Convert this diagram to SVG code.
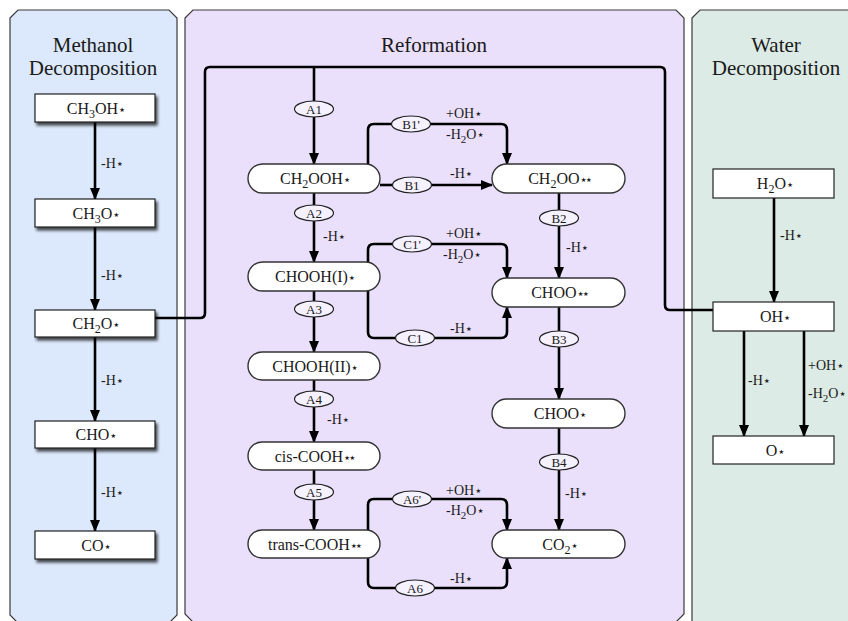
<svg xmlns="http://www.w3.org/2000/svg" width="848" height="621" viewBox="0 0 848 621" font-family="'Liberation Serif', 'DejaVu Serif', serif">
<defs>
<style>
text{font-family:'Liberation Serif','DejaVu Serif',serif;fill:#1a1a1a}
.title{font-size:21px;text-anchor:middle}
.nt{font-size:16px;text-anchor:middle}
.el{font-size:14px}
.et{font-size:13px;text-anchor:middle}
.st{font-family:'DejaVu Sans',sans-serif;font-size:13px;letter-spacing:-3px}
.panel{stroke:#3a3a3a;stroke-width:1.2}
.box{fill:#fff;stroke:#222;stroke-width:1.2}
.stad{fill:#fff;stroke:#333;stroke-width:1.4}
.ell{fill:#f5f1fe;stroke:#222;stroke-width:1.2}
.ln{fill:none;stroke:#000;stroke-width:2.6}
.ar{fill:none;stroke:#000;stroke-width:2.6;marker-end:url(#ah)}
</style>
<marker id="ah" markerUnits="userSpaceOnUse" markerWidth="12" markerHeight="12" refX="11" refY="5" orient="auto">
<path d="M0,0 L12,5 L0,10 z" fill="#000"/>
</marker>
<filter id="sh" x="-10%" y="-20%" width="130%" height="160%">
<feGaussianBlur in="SourceAlpha" stdDeviation="1.5"/>
<feOffset dx="2" dy="3" result="b"/>
<feComponentTransfer><feFuncA type="linear" slope="0.7"/></feComponentTransfer>
<feMerge><feMergeNode/><feMergeNode in="SourceGraphic"/></feMerge>
</filter>
</defs>

<g id="panel-methanol">
<path class="panel" fill="#dce8fb" d="M10,18 L18,10 H169 L177,18 V615 L169,623 H18 L10,615 Z"/>
<text class="title" x="93" y="52">Methanol</text>
<text class="title" x="93" y="75">Decomposition</text>
</g>
<g id="panel-reformation">
<path class="panel" fill="#ebe0fc" d="M185,18 L193,10 H676 L684,18 V614 L676,622 H193 L185,614 Z"/>
<text class="title" x="434" y="52">Reformation</text>
</g>
<g id="panel-water">
<path class="panel" fill="#dcebe5" d="M692,18 L700,10 H900 V640 H692 Z"/>
<text class="title" x="776" y="52">Water</text>
<text class="title" x="776" y="75">Decomposition</text>
</g>

<g id="connectors">
<path class="ar" d="M95,122 V199"/>
<path class="ar" d="M95,227 V310"/>
<path class="ar" d="M95,337 V421"/>
<path class="ar" d="M95,448 V531"/>
<path class="ln" d="M155,318 H200 Q205,318 205,313 V72 Q205,67 210,67 H660 Q665,67 665,72 V305 Q665,310 670,310 H713"/>
<path class="ln" d="M314,67 V101"/>
<path class="ar" d="M314,117 V164"/>
<path class="ln" d="M314,193 V205"/>
<path class="ar" d="M314,221 V262"/>
<path class="ln" d="M314,291 V301"/>
<path class="ar" d="M314,317 V352"/>
<path class="ln" d="M314,380 V391"/>
<path class="ar" d="M314,407 V442"/>
<path class="ln" d="M314,470 V484"/>
<path class="ar" d="M314,500 V530"/>
<path class="ln" d="M368,165 V130 Q368,124 374,124 H392"/>
<path class="ar" d="M430,124 H501 Q507,124 507,130 V164"/>
<path class="ln" d="M380,185 H393"/>
<path class="ar" d="M431,185 H492"/>
<path class="ln" d="M368,263 V250 Q368,244 374,244 H393"/>
<path class="ar" d="M431,244 H501 Q507,244 507,250 V278"/>
<path class="ln" d="M368,290 V332 Q368,338 374,338 H396"/>
<path class="ar" d="M434,338 H501 Q507,338 507,332 V307"/>
<path class="ln" d="M368,531 V505 Q368,499 374,499 H393"/>
<path class="ar" d="M431,499 H501 Q507,499 507,505 V530"/>
<path class="ln" d="M368,557 V582 Q368,588 374,588 H396"/>
<path class="ar" d="M434,588 H501 Q507,588 507,582 V558"/>
<path class="ln" d="M559,193 V210"/>
<path class="ar" d="M559,226 V278"/>
<path class="ln" d="M559,307 V331"/>
<path class="ar" d="M559,347 V399"/>
<path class="ln" d="M559,428 V454"/>
<path class="ar" d="M559,470 V530"/>
<path class="ar" d="M774,198 V302"/>
<path class="ar" d="M744,331 V436"/>
<path class="ar" d="M804,331 V436"/>
</g>

<g id="edge-labels">
<text class="el" x="101" y="168">-H<tspan class="st">⋆</tspan></text>
<text class="el" x="101" y="280">-H<tspan class="st">⋆</tspan></text>
<text class="el" x="101" y="385">-H<tspan class="st">⋆</tspan></text>
<text class="el" x="101" y="497">-H<tspan class="st">⋆</tspan></text>
<text class="el" x="323" y="241">-H<tspan class="st">⋆</tspan></text>
<text class="el" x="327" y="424">-H<tspan class="st">⋆</tspan></text>
<text class="el" x="566" y="252">-H<tspan class="st">⋆</tspan></text>
<text class="el" x="565" y="498">-H<tspan class="st">⋆</tspan></text>
<text class="el" x="446" y="118">+OH<tspan class="st">⋆</tspan></text>
<text class="el" x="446" y="139">-H<tspan dy="4" font-size="11">2</tspan><tspan dy="-4">O</tspan><tspan class="st">⋆</tspan></text>
<text class="el" x="450" y="178">-H<tspan class="st">⋆</tspan></text>
<text class="el" x="446" y="238">+OH<tspan class="st">⋆</tspan></text>
<text class="el" x="443" y="259">-H<tspan dy="4" font-size="11">2</tspan><tspan dy="-4">O</tspan><tspan class="st">⋆</tspan></text>
<text class="el" x="450" y="333">-H<tspan class="st">⋆</tspan></text>
<text class="el" x="446" y="495">+OH<tspan class="st">⋆</tspan></text>
<text class="el" x="446" y="515">-H<tspan dy="4" font-size="11">2</tspan><tspan dy="-4">O</tspan><tspan class="st">⋆</tspan></text>
<text class="el" x="450" y="583">-H<tspan class="st">⋆</tspan></text>
<text class="el" x="780" y="240">-H<tspan class="st">⋆</tspan></text>
<text class="el" x="748" y="385">-H<tspan class="st">⋆</tspan></text>
<text class="el" x="808" y="370">+OH<tspan class="st">⋆</tspan></text>
<text class="el" x="808" y="398">-H<tspan dy="4" font-size="11">2</tspan><tspan dy="-4">O</tspan><tspan class="st">⋆</tspan></text>
</g>

<g id="n-ch3oh"><rect class="box" filter="url(#sh)" x="35" y="94" width="120" height="28"/><text class="nt" x="95" y="113.5">CH<tspan dy="4" font-size="12">3</tspan><tspan dy="-4">OH</tspan><tspan class="st">⋆</tspan></text></g>
<g id="n-ch3o"><rect class="box" filter="url(#sh)" x="35" y="199" width="120" height="28"/><text class="nt" x="95" y="218.5">CH<tspan dy="4" font-size="12">3</tspan><tspan dy="-4">O</tspan><tspan class="st">⋆</tspan></text></g>
<g id="n-ch2o"><rect class="box" filter="url(#sh)" x="35" y="310" width="120" height="27"/><text class="nt" x="95" y="328.5">CH<tspan dy="4" font-size="12">2</tspan><tspan dy="-4">O</tspan><tspan class="st">⋆</tspan></text></g>
<g id="n-cho"><rect class="box" filter="url(#sh)" x="35" y="421" width="120" height="27"/><text class="nt" x="95" y="439.5">CHO<tspan class="st">⋆</tspan></text></g>
<g id="n-co"><rect class="box" filter="url(#sh)" x="35" y="531" width="120" height="28"/><text class="nt" x="95" y="550.5">CO<tspan class="st">⋆</tspan></text></g>

<g id="n-h2o"><rect class="box" x="713" y="169" width="121" height="29"/><text class="nt" x="774" y="188.5">H<tspan dy="4" font-size="12">2</tspan><tspan dy="-4">O</tspan><tspan class="st">⋆</tspan></text></g>
<g id="n-oh"><rect class="box" x="713" y="302" width="121" height="29"/><text class="nt" x="774" y="321.5">OH<tspan class="st">⋆</tspan></text></g>
<g id="n-o"><rect class="box" x="713" y="436" width="121" height="28"/><text class="nt" x="774" y="455.5">O<tspan class="st">⋆</tspan></text></g>

<g id="n-ch2ooh"><rect class="stad" x="248" y="164" width="132" height="29" rx="14.5"/><text class="nt" x="314" y="183.5">CH<tspan dy="4" font-size="12">2</tspan><tspan dy="-4">OOH</tspan><tspan class="st">⋆</tspan></text></g>
<g id="n-chooh1"><rect class="stad" x="248" y="262" width="132" height="29" rx="14.5"/><text class="nt" x="314" y="281.5">CHOOH(I)<tspan class="st">⋆</tspan></text></g>
<g id="n-chooh2"><rect class="stad" x="248" y="352" width="132" height="28" rx="14"/><text class="nt" x="314" y="371.5">CHOOH(II)<tspan class="st">⋆</tspan></text></g>
<g id="n-ciscooh"><rect class="stad" x="248" y="442" width="132" height="28" rx="14"/><text class="nt" x="314" y="461.5">cis-COOH<tspan class="st">⋆⋆</tspan></text></g>
<g id="n-transcooh"><rect class="stad" x="248" y="530" width="132" height="28" rx="14"/><text class="nt" x="314" y="549.5">trans-COOH<tspan class="st">⋆⋆</tspan></text></g>
<g id="n-ch2oo"><rect class="stad" x="492" y="164" width="133" height="29" rx="14.5"/><text class="nt" x="559" y="183.5">CH<tspan dy="4" font-size="12">2</tspan><tspan dy="-4">OO</tspan><tspan class="st">⋆⋆</tspan></text></g>
<g id="n-choo2"><rect class="stad" x="492" y="278" width="133" height="29" rx="14.5"/><text class="nt" x="559" y="297.5">CHOO<tspan class="st">⋆⋆</tspan></text></g>
<g id="n-choo1"><rect class="stad" x="492" y="399" width="133" height="29" rx="14.5"/><text class="nt" x="559" y="418.5">CHOO<tspan class="st">⋆</tspan></text></g>
<g id="n-co2"><rect class="stad" x="492" y="530" width="133" height="28" rx="14"/><text class="nt" x="559" y="549.5">CO<tspan dy="4" font-size="12">2</tspan><tspan dy="-4" class="st">⋆</tspan></text></g>

<g id="s-a1"><ellipse class="ell" cx="314" cy="109" rx="19.5" ry="8"/><text class="et" x="314" y="113.5">A1</text></g>
<g id="s-a2"><ellipse class="ell" cx="314" cy="213" rx="19.5" ry="8"/><text class="et" x="314" y="217.5">A2</text></g>
<g id="s-a3"><ellipse class="ell" cx="314" cy="309" rx="19.5" ry="8"/><text class="et" x="314" y="313.5">A3</text></g>
<g id="s-a4"><ellipse class="ell" cx="314" cy="399" rx="19.5" ry="8"/><text class="et" x="314" y="403.5">A4</text></g>
<g id="s-a5"><ellipse class="ell" cx="314" cy="492" rx="19.5" ry="8"/><text class="et" x="314" y="496.5">A5</text></g>
<g id="s-b1p"><ellipse class="ell" cx="411" cy="124" rx="19.5" ry="8"/><text class="et" x="411" y="128.5">B1'</text></g>
<g id="s-b1"><ellipse class="ell" cx="412" cy="185" rx="19.5" ry="8"/><text class="et" x="412" y="189.5">B1</text></g>
<g id="s-c1p"><ellipse class="ell" cx="412" cy="244" rx="19.5" ry="8"/><text class="et" x="412" y="248.5">C1'</text></g>
<g id="s-c1"><ellipse class="ell" cx="415" cy="338" rx="19.5" ry="8"/><text class="et" x="415" y="342.5">C1</text></g>
<g id="s-a6p"><ellipse class="ell" cx="412" cy="499" rx="19.5" ry="8"/><text class="et" x="412" y="503.5">A6'</text></g>
<g id="s-a6"><ellipse class="ell" cx="415" cy="588" rx="19.5" ry="8"/><text class="et" x="415" y="592.5">A6</text></g>
<g id="s-b2"><ellipse class="ell" cx="559" cy="218" rx="19.5" ry="8"/><text class="et" x="559" y="222.5">B2</text></g>
<g id="s-b3"><ellipse class="ell" cx="559" cy="339" rx="19.5" ry="8"/><text class="et" x="559" y="343.5">B3</text></g>
<g id="s-b4"><ellipse class="ell" cx="559" cy="462" rx="19.5" ry="8"/><text class="et" x="559" y="466.5">B4</text></g>
</svg>
